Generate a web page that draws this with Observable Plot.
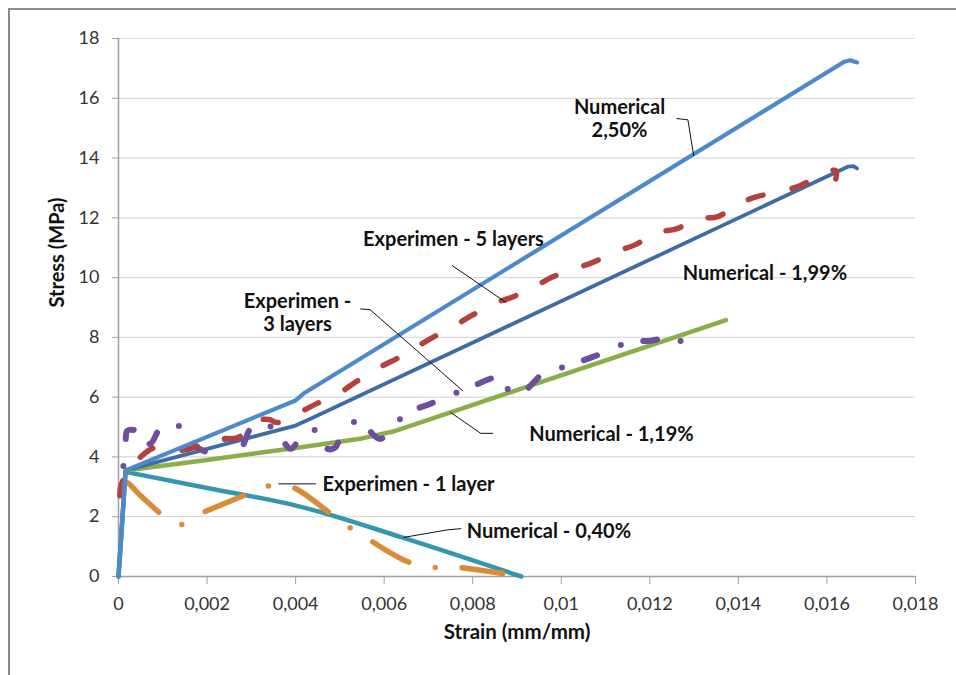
<!DOCTYPE html>
<html><head><meta charset="utf-8">
<script src="https://cdn.jsdelivr.net/npm/d3@7"></script>
<script src="https://cdn.jsdelivr.net/npm/@observablehq/plot@0.6"></script>
<style>
html,body{margin:0;padding:0;background:#fff;overflow:hidden;width:956px;height:675px;}
#frame{position:absolute;left:8px;top:8px;width:1200px;height:900px;border-left:2px solid #8a8a8a;border-top:2px solid #8a8a8a;}
#chart{position:absolute;left:0;top:0;}
</style></head><body><div id="frame"></div><div id="chart"></div>
<script>
// ---- axis ticks ----
const xTicks = [0, 0.002, 0.004, 0.006, 0.008, 0.01, 0.012, 0.014, 0.016, 0.018];
const yTicks = [0, 2, 4, 6, 8, 10, 12, 14, 16, 18];

// ---- numerical series ----
const num250X = [0, 0.00016, 0.0040, 0.00418, 0.01639, 0.01652, 0.01668];
const num250Y = [0, 3.55, 5.89, 6.12, 17.22, 17.27, 17.2];
const num199X = [0, 0.00016, 0.0040, 0.0043, 0.01647, 0.0166, 0.01668];
const num199Y = [0, 3.55, 5.05, 5.25, 13.71, 13.73, 13.65];
const num119X = [0, 0.00016, 0.002, 0.004, 0.0055, 0.0062, 0.0075, 0.01372];
const num119Y = [0, 3.55, 3.9, 4.3, 4.62, 4.85, 5.49, 8.58];
const num040X = [0, 0.00016, 0.002, 0.0041, 0.0064, 0.0091];
const num040Y = [0, 3.5, 2.96, 2.34, 1.31, 0];

// ---- experimental series ----
const exp5X = [0.00003, 0.00005, 0.0002, 0.0005, 0.0008, 0.0013, 0.0019, 0.0023, 0.0027, 0.0031, 0.0034, 0.0036, 0.0041, 0.0045, 0.005, 0.0054, 0.0059, 0.0063, 0.0067, 0.0071, 0.0076, 0.008, 0.0085, 0.0089, 0.0094, 0.0098, 0.0103, 0.0107, 0.0112, 0.0117, 0.0121, 0.0126, 0.0131, 0.0135, 0.014, 0.0144, 0.015, 0.0154, 0.0159, 0.0162, 0.0162];
const exp5Y = [2.7, 3.0, 3.5, 4.0, 4.3, 4.2, 4.4, 4.6, 4.65, 5.2, 5.25, 5.15, 5.5, 5.8, 6.15, 6.55, 7.0, 7.3, 7.65, 8.0, 8.4, 8.75, 9.15, 9.35, 9.7, 10.02, 10.3, 10.5, 10.85, 11.12, 11.5, 11.63, 12.0, 12.02, 12.47, 12.7, 12.9, 13.08, 13.47, 13.58, 13.3];
const exp3X = [0.00011, 0.00016, 0.0002, 0.00035, 0.00055, 0.00072, 0.00099, 0.00138, 0.00178, 0.00212, 0.0024, 0.00276, 0.00298, 0.0033, 0.0037, 0.00389, 0.00404, 0.00438, 0.00472, 0.0049, 0.00502, 0.00543, 0.00577, 0.00592, 0.00611, 0.00652, 0.00705, 0.00747, 0.00797, 0.00852, 0.00871, 0.00882, 0.00918, 0.00958, 0.01003, 0.01059, 0.01108, 0.01153, 0.01202, 0.01251, 0.01262, 0.01289];
const exp3Y = [3.7, 4.55, 4.88, 4.9, 4.5, 4.44, 5.05, 5.02, 4.32, 4.16, 4.6, 4.32, 4.94, 5.15, 4.55, 4.27, 4.49, 4.94, 4.27, 4.32, 4.66, 5.24, 4.72, 4.6, 4.88, 5.46, 5.78, 6.05, 6.35, 6.67, 6.67, 6.22, 6.24, 6.78, 7.0, 7.28, 7.56, 7.84, 7.89, 8.0, 7.84, 8.12];
const exp1X = [0.00005, 0.00016, 0.0005, 0.00091, 0.00136, 0.00185, 0.00283, 0.00332, 0.00389, 0.00475, 0.00518, 0.00566, 0.00652, 0.0071, 0.00765, 0.00871];
const exp1Y = [2.8, 3.15, 2.7, 2.15, 1.73, 2.1, 2.71, 3.01, 3.01, 2.15, 1.68, 1.23, 0.5, 0.31, 0.31, 0.09];

// ---- annotations ----
const labelText = ["Numerical\n2,50%", "Experimen - 5 layers", "Experimen -\n3 layers", "Numerical - 1,99%", "Numerical - 1,19%", "Experimen - 1 layer", "Numerical - 0,40%"];
const labelX = [0.011315, 0.007566, 0.004043, 0.0146, 0.011134, 0.00655, 0.00972];
const labelY = [15.32, 11.31, 8.85, 10.17, 4.78, 3.11, 1.54];
const leaderX = [[0.01261, 0.01286, 0.01299], [0.00754, 0.00875], [0.00547, 0.00568, 0.00777], [0.0075, 0.00818, 0.00845], [0.00362, 0.00445], [0.00645, 0.00743, 0.00773]];
const leaderY = [[15.32, 15.28, 14.08], [10.4, 9.17], [8.95, 8.93, 6.22], [5.49, 4.79, 4.79], [3.1, 3.1], [1.31, 1.56, 1.6]];

const pts = (xs, ys) => xs.map((x, i) => ({x, y: ys[i]}));
const fmt = d => String(d).replace(".", ",");
const FONT = "Lato, 'Open Sans', sans-serif";

const numLine = (data, color, w, curve = "linear") => Plot.line(data, {x: "x", y: "y", stroke: color, strokeWidth: w, strokeLinejoin: "round", strokeLinecap: "round", curve});
const expLine = (data, color, w, dash, offset = 0) => Plot.line(data, {x: "x", y: "y", stroke: color, strokeWidth: w, strokeDasharray: dash, strokeDashoffset: offset, strokeLinejoin: "round", strokeLinecap: "round", curve: "catmull-rom"});

const n040 = pts(num040X, num040Y);
const e1 = pts(exp1X, exp1Y);
const e3 = pts(exp3X, exp3Y);

const marks = [
  Plot.ruleY(yTicks.filter(d => d > 0), {stroke: "#d9d9d9", strokeWidth: 1.2}),
  Plot.axisY({ticks: yTicks, tickSize: 6, tickPadding: 13, tickFormat: fmt, fontSize: 18, stroke: "#a0a0a0", fill: "#333", label: null}),
  Plot.axisX({ticks: xTicks, tickSize: 8, tickPadding: 13, tickFormat: fmt, fontSize: 18, stroke: "#a0a0a0", fill: "#333", label: null}),
  Plot.ruleX([0], {stroke: "#a0a0a0", strokeWidth: 1.5}),
  Plot.ruleY([0], {stroke: "#a0a0a0", strokeWidth: 1.5}),
  numLine(n040.slice(0, 2), "#3597AD", 4.5),
  numLine(n040.slice(1), "#3597AD", 4.5, "monotone-x"),
  numLine(pts(num119X, num119Y), "#8AAE4A", 4.5),
  numLine(pts(num199X, num199Y), "#3E6DA6", 3.8),
  expLine(e1.slice(0, 4), "#DB8A36", 5.5, null),
  expLine(e1.slice(3), "#DB8A36", 5.5, "41,27,0,27", 41),
  expLine(e3.slice(0, 4), "#6F4E9E", 6, "0,27,15,27"),
  expLine(e3.slice(3), "#6F4E9E", 6, "14,26,0,23", 41),
  expLine(pts(exp5X, exp5Y), "#B5403C", 5.5, "15.5,29.5"),
  numLine(pts(num250X, num250Y), "#4D8ACB", 4.2),
  ...leaderX.map((xs, i) => Plot.line(pts(xs, leaderY[i]), {x: "x", y: "y", stroke: "#111", strokeWidth: 1})),
  Plot.text(labelText.map((t, i) => ({t, x: labelX[i], y: labelY[i]})), {x: "x", y: "y", text: "t", fontSize: 20, fontWeight: "bold", fill: "#111", lineHeight: 1.15, textAnchor: "middle"}),
  Plot.text(["Strain (mm/mm)"], {frameAnchor: "bottom", dy: 62, fontSize: 20.5, fontWeight: "bold", fill: "#111"}),
  Plot.text(["Stress (MPa)"], {frameAnchor: "left", dx: -61, rotate: -90, fontSize: 20, fontWeight: "bold", fill: "#111"})
];

const chart = Plot.plot({
  width: 956, height: 675,
  marginLeft: 118, marginRight: 41, marginTop: 38, marginBottom: 99,
  x: {domain: [0, 0.018]},
  y: {domain: [0, 18]},
  style: {fontFamily: FONT, background: "transparent", overflow: "visible"},
  marks
});
document.getElementById("chart").appendChild(chart);
</script></body></html>
